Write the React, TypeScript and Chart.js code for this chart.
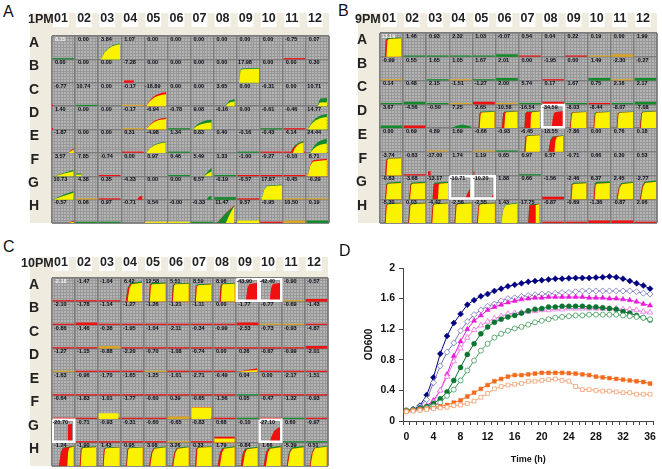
import React, { useEffect, useRef } from "react";
import { Chart, registerables } from "chart.js";

Chart.register(...registerables);

const columnLabels = ["01", "02", "03", "04", "05", "06", "07", "08", "09", "10", "11", "12"];
const rowLabels = ["A", "B", "C", "D", "E", "F", "G", "H"];
const odTicks = ["0", "0.4", "0.8", "1.2", "1.6", "2"];

/* ---------- well read-outs ---------- */
const valuesA = [
  ["8.15", "0.00", "3.84", "1.07", "0.00", "0.00", "0.00", "0.00", "0.00", "0.00", "-0.75", "0.07"],
  ["0.00", "0.00", "0.00", "-7.28", "0.00", "0.00", "0.00", "0.00", "17.98", "0.00", "0.00", "0.30"],
  ["-0.77", "10.74", "0.00", "-0.17", "-16.89", "0.00", "0.00", "3.65", "0.00", "-0.31", "0.00", "10.71"],
  ["1.40", "0.00", "0.00", "-0.17", "-6.94", "-0.78", "9.08", "-0.16", "0.00", "-0.61", "-0.46", "14.77"],
  ["-1.87", "0.00", "0.00", "0.31", "-4.98", "1.34", "0.83", "0.40", "-0.16", "-0.43", "4.14", "24.44"],
  ["3.57", "7.85", "-0.74", "0.00", "0.97", "0.46", "5.49", "1.33", "-1.00", "-0.27", "-0.10", "8.71"],
  ["10.73", "4.38", "0.35", "-4.33", "0.00", "0.00", "6.57", "-0.19", "-0.57", "17.87", "-0.45", "-0.29"],
  ["-0.57", "0.06", "0.97", "-0.71", "0.54", "-0.00", "-0.33", "11.47", "9.57", "-0.95", "10.50", "0.19"],
];
const valuesB = [
  ["13.19", "1.46", "0.93", "2.32", "1.03", "-0.07", "0.54", "0.04", "0.22", "0.19", "0.00", "1.99"],
  ["-0.99", "0.55", "1.65", "1.05", "1.67", "2.01", "0.00", "-1.95", "0.00", "1.49", "-2.30", "-0.27"],
  ["0.14", "0.48", "2.15", "-1.51", "-1.27", "2.00", "5.74", "0.17", "1.67", "0.75", "2.16", "2.17"],
  ["3.67", "-4.56", "-0.50", "7.25", "2.65", "-10.58", "-16.54", "-34.59", "-8.03", "-8.44", "-8.07", "-7.08"],
  ["0.00", "0.69", "4.89", "1.69", "-0.66", "-0.93", "-6.45", "-18.55", "-7.86", "0.00", "0.76", "0.18"],
  ["-3.74", "-0.63", "-17.00", "1.74", "1.19", "0.65", "0.97", "0.57", "-0.71", "0.66", "0.30", "0.53"],
  ["-0.83", "-3.68", "-13.17", "-10.71", "-10.20", "1.88", "0.66", "-1.56", "-2.46", "6.37", "2.45", "-2.77"],
  ["-5.30", "0.03", "-4.42", "-2.56", "-2.55", "1.43", "-17.75", "-0.87", "-0.69", "-1.36", "-0.87", "2.06"],
];
const valuesC = [
  ["-2.18", "-1.47", "-1.04", "6.42", "12.58", "5.51", "8.59", "8.96", "-43.90", "-42.40", "-0.90", "-0.57"],
  ["-2.10", "-1.78", "-1.14", "-1.27", "-1.26", "-1.21", "-1.11", "0.00", "-1.77", "-0.77", "-0.69", "-1.43"],
  ["-0.86", "-1.46", "-0.38", "-1.95", "-1.04", "-2.11", "-0.34", "-0.99", "-2.53", "-0.73", "-0.93", "-4.87"],
  ["-1.27", "-1.15", "-0.88", "-2.20", "-0.70", "-1.08", "-0.74", "0.00", "0.26", "-0.67", "-0.99", "-2.01"],
  ["-1.63", "-0.96", "-1.70", "-1.65", "-1.25", "-1.01", "-2.71", "-0.49", "0.04", "0.00", "-2.17", "-1.51"],
  ["-0.64", "-1.83", "-1.01", "-1.77", "-0.60", "0.39", "-0.65", "-1.56", "0.05", "-0.47", "-1.32", "-0.93"],
  ["-20.70", "-0.71", "-0.93", "-0.31", "-0.60", "-0.65", "-0.83", "0.68", "-0.10", "-27.10", "0.60", "-0.97"],
  ["-1.24", "-1.90", "1.43", "0.95", "3.08", "3.26", "0.33", "1.79", "-0.84", "1.66", "-5.39", "0.51"],
];

/* ---------- flat traces along the bottom of each well ---------- */
const tracesA = [
  "g.........r.",
  "............",
  ".g.o........",
  "...o.g...gr.",
  "...r.g..grr.",
  "..r..g.grrr.",
  ".or....Gr.oo",
  ".gg.yyg.YrOG",
];
const tracesB = [
  ".ggggGr.roO.",
  "o.gogG.r.GoG",
  "gGgoRogRgrgG",
  "GR..........",
  "..o.og......",
  ".r....g.....",
  ".......R....",
  ".......rrRRr",
];
const tracesC = [
  "rrr.......oR",
  "rRrrrrrrRoor",
  "rrOrrrrrrrrR",
  "orrrorrr.rrr",
  "rrrrrrrrgrrr",
  "rrrrrOrrgrgr",
  ".rrrrorr..gg",
  "............",
];

/* ---------- growth curve outlines, normalised to one well ---------- */
const curveShapes: Record<string, number[][]> = {
  box: [[0, 0], [0.08, 0.88], [0.16, 0.96], [1, 1]],
  steep: [[0, 0], [0.14, 0.7], [0.28, 0.92], [1, 1]],
  arc: [[0, 0], [0.2, 0.45], [0.4, 0.72], [0.6, 0.87], [0.8, 0.96], [1, 1]],
  ramp: [[0, 0], [0.5, 0.55], [1, 1]],
  hump: [[0, 0.1], [0.3, 0.7], [0.55, 1], [0.8, 0.7], [1, 0.4]],
  flat: [[0, 1], [1, 1]],
};

/* row, col, start, end, height, outline, body, cap colour, cap depth, edge colour, edge width */
type Well = [number, number, number, number, number, string, string, string, number, string, number];
const curvesA: Well[] = [
  [0, 2, 0.11, 0.96, 0.68, "arc", "y", "g", 0.03, "", 0],
  [1, 8, 0.1, 0.97, 0.63, "box", "y", "g", 0.03, "", 0],
  [1, 3, 0.12, 0.55, 0.1, "flat", "r", "", 0, "", 0],
  [2, 0, 0.0, 0.06, 0.06, "flat", "r", "", 0, "", 0],
  [2, 4, 0.08, 0.95, 0.6, "arc", "y", "r", 0.09, "", 0],
  [2, 7, 0.52, 0.92, 0.3, "arc", "y", "g", 0.1, "", 0],
  [2, 11, 0.52, 0.91, 0.35, "steep", "y", "g", 0.18, "", 0],
  [3, 0, 0.0, 0.06, 0.06, "flat", "r", "", 0, "", 0],
  [3, 4, 0.08, 0.95, 0.5, "arc", "y", "r", 0.05, "", 0],
  [3, 6, 0.1, 0.92, 0.42, "arc", "y", "g", 0.12, "", 0],
  [3, 11, 0.08, 0.91, 0.66, "arc", "y", "g", 0.12, "", 0],
  [4, 0, 0.7, 0.95, 0.2, "ramp", "y", "r", 0.06, "", 0],
  [4, 4, 0.08, 0.93, 0.47, "arc", "y", "g", 0.03, "", 0],
  [4, 10, 0.33, 0.91, 0.5, "arc", "y", "g", 0.06, "r", 0.1],
  [4, 11, 0.19, 0.91, 0.6, "arc", "y", "g", 0.2, "", 0],
  [5, 0, 0.12, 0.94, 0.27, "ramp", "y", "g", 0.06, "", 0],
  [5, 1, 0.03, 0.28, 0.12, "flat", "y", "g", 0.05, "", 0],
  [5, 6, 0.58, 0.92, 0.37, "ramp", "y", "g", 0.16, "", 0],
  [5, 11, 0.08, 0.91, 0.75, "steep", "y", "r", 0.06, "", 0],
  [6, 0, 0.05, 0.94, 0.37, "ramp", "y", "g", 0.08, "", 0],
  [6, 3, 0.68, 0.92, 0.16, "arc", "r", "", 0, "", 0],
  [6, 6, 0.7, 0.92, 0.16, "arc", "g", "", 0, "", 0],
  [6, 9, 0.07, 0.97, 0.65, "steep", "y", "g", 0.03, "", 0],
  [7, 0, 0.7, 0.95, 0.1, "ramp", "y", "r", 0.05, "", 0],
  [7, 7, 0.15, 0.9, 0.76, "ramp", "y", "r", 0.03, "g", 0.38],
];
const curvesB: Well[] = [
  [0, 0, 0.2, 0.93, 0.82, "box", "y", "g", 0.04, "r", 0.07],
  [3, 3, 0.1, 0.95, 0.15, "hump", "g", "", 0, "", 0],
  [3, 4, 0.26, 0.97, 0.72, "box", "y", "g", 0.04, "r", 0.05],
  [3, 5, 0.28, 0.97, 0.72, "box", "y", "g", 0.03, "r", 0.1],
  [3, 6, 0.25, 0.93, 0.72, "box", "y", "g", 0.03, "r", 0.26],
  [3, 7, 0.43, 0.93, 0.72, "steep", "r", "", 0, "", 0],
  [3, 8, 0.23, 0.95, 0.7, "box", "y", "g", 0.03, "r", 0.03],
  [3, 9, 0.25, 0.96, 0.7, "box", "y", "g", 0.03, "r", 0.03],
  [3, 10, 0.25, 0.96, 0.7, "box", "y", "g", 0.03, "r", 0.03],
  [3, 11, 0.26, 0.97, 0.72, "box", "y", "g", 0.03, "r", 0.04],
  [4, 6, 0.25, 0.93, 0.72, "box", "y", "g", 0.03, "r", 0.05],
  [4, 7, 0.29, 0.95, 0.7, "steep", "y", "g", 0.03, "r", 0.26],
  [5, 0, 0.22, 0.93, 0.76, "box", "y", "g", 0.03, "r", 0.05],
  [5, 2, 0.08, 0.2, 0.18, "flat", "r", "", 0, "", 0],
  [5, 4, 0.04, 0.1, 0.18, "flat", "r", "", 0, "", 0],
  [6, 0, 0.22, 0.93, 0.74, "box", "y", "g", 0.06, "r", 0.04],
  [6, 1, 0.26, 0.97, 0.74, "box", "y", "g", 0.06, "r", 0.04],
  [6, 2, 0.27, 0.95, 0.74, "box", "y", "g", 0.06, "r", 0.24],
  [6, 3, 0.68, 0.9, 0.45, "ramp", "r", "", 0, "", 0],
  [6, 4, 0.8, 0.93, 0.25, "ramp", "r", "", 0, "", 0],
  [6, 8, 0.25, 0.95, 0.72, "box", "y", "g", 0.05, "r", 0.04],
  [6, 9, 0.25, 0.96, 0.76, "box", "y", "g", 0.08, "r", 0.04],
  [6, 10, 0.25, 0.96, 0.74, "steep", "y", "g", 0.05, "r", 0.04],
  [6, 11, 0.26, 0.97, 0.8, "steep", "y", "g", 0.06, "r", 0.04],
  [7, 0, 0.2, 0.96, 0.85, "box", "y", "g", 0.03, "r", 0.04],
  [7, 1, 0.22, 0.98, 0.85, "box", "y", "g", 0.03, "r", 0.04],
  [7, 2, 0.22, 0.96, 0.85, "box", "y", "g", 0.03, "r", 0.04],
  [7, 3, 0.22, 0.98, 0.85, "box", "y", "g", 0.03, "r", 0.04],
  [7, 4, 0.2, 0.98, 0.85, "box", "y", "g", 0.03, "r", 0.04],
  [7, 5, 0.25, 0.95, 0.85, "steep", "y", "g", 0.03, "", 0],
  [7, 6, 0.42, 0.92, 0.82, "box", "y", "g", 0.03, "r", 0.3],
];
const curvesC: Well[] = [
  [0, 3, 0.2, 0.92, 0.86, "steep", "y", "g", 0.06, "r", 0.08],
  [0, 4, 0.2, 0.95, 0.82, "box", "y", "g", 0.05, "r", 0.05],
  [0, 5, 0.2, 0.95, 0.8, "box", "y", "g", 0.04, "r", 0.05],
  [0, 6, 0.2, 0.92, 0.76, "box", "y", "g", 0.04, "r", 0.05],
  [0, 7, 0.28, 0.95, 0.8, "box", "y", "g", 0.04, "r", 0.06],
  [0, 8, 0.42, 0.95, 0.8, "steep", "r", "", 0, "", 0],
  [0, 9, 0.46, 0.93, 0.8, "steep", "r", "", 0, "", 0],
  [3, 8, 0.05, 0.93, 0.16, "ramp", "y", "r", 0.07, "", 0],
  [5, 2, 0.02, 0.9, 0.25, "flat", "y", "", 0, "", 0],
  [5, 6, 0.05, 0.93, 0.5, "flat", "y", "r", 0.01, "", 0],
  [6, 0, 0.67, 0.88, 0.8, "box", "r", "", 0, "", 0],
  [6, 7, 0.05, 0.95, 0.25, "flat", "y", "r", 0.08, "", 0],
  [6, 9, 0.46, 0.93, 0.65, "arc", "r", "", 0, "", 0],
  [7, 0, 0.3, 0.95, 0.86, "steep", "y", "g", 0.03, "r", 0.36],
  [7, 1, 0.2, 0.93, 0.84, "box", "y", "g", 0.04, "r", 0.04],
  [7, 2, 0.2, 0.95, 0.82, "box", "y", "g", 0.03, "r", 0.04],
  [7, 3, 0.22, 0.95, 0.82, "box", "y", "g", 0.03, "r", 0.04],
  [7, 4, 0.22, 0.95, 0.84, "steep", "y", "g", 0.04, "r", 0.05],
  [7, 5, 0.22, 0.95, 0.84, "steep", "y", "g", 0.04, "r", 0.05],
  [7, 6, 0.22, 0.95, 0.84, "box", "y", "g", 0.03, "r", 0.05],
  [7, 7, 0.2, 0.95, 0.84, "steep", "y", "g", 0.04, "r", 0.1],
  [7, 8, 0.2, 0.95, 0.82, "steep", "y", "g", 0.04, "r", 0.1],
  [7, 9, 0.2, 0.95, 0.86, "steep", "y", "g", 0.06, "r", 0.1],
  [7, 10, 0.2, 0.95, 0.86, "steep", "y", "g", 0.06, "r", 0.05],
  [7, 11, 0.2, 0.95, 0.86, "steep", "y", "g", 0.04, "r", 0.04],
];

/* wells framed in white */
const framedA: number[][] = [];
const framedB = [[3, 7], [6, 3], [6, 4]];
const framedC = [[0, 8], [0, 9], [6, 0], [6, 9]];

/* ---------- panel D: OD600 against time ---------- */
const hours = ["0", "1", "2", "3", "4", "5", "6", "7", "8", "9", "10", "11", "12", "13", "14", "15", "16", "17", "18", "19", "20", "21", "22", "23", "24", "25", "26", "27", "28", "29", "30", "31", "32", "33", "34", "35", "36"];
const navyFilled = [0.13, 0.15, 0.2, 0.34, 0.57, 0.88, 1.11, 1.28, 1.4, 1.52, 1.58, 1.63, 1.66, 1.7, 1.73, 1.76, 1.78, 1.8, 1.82, 1.83, 1.84, 1.85, 1.86, 1.86, 1.865, 1.87, 1.87, 1.87, 1.875, 1.88, 1.89, 1.88, 1.86, 1.83, 1.8, 1.77, 1.73];
const navyOpen = [0.13, 0.15, 0.19, 0.28, 0.5, 0.72, 0.9, 1.02, 1.18, 1.3, 1.39, 1.45, 1.5, 1.53, 1.57, 1.6, 1.61, 1.63, 1.64, 1.65, 1.66, 1.66, 1.67, 1.68, 1.68, 1.69, 1.7, 1.7, 1.7, 1.7, 1.7, 1.7, 1.7, 1.7, 1.69, 1.67, 1.66];
const magentaFilled = [0.13, 0.15, 0.17, 0.2, 0.27, 0.4, 0.61, 0.85, 1.04, 1.2, 1.31, 1.38, 1.45, 1.49, 1.52, 1.55, 1.57, 1.59, 1.6, 1.61, 1.61, 1.62, 1.62, 1.62, 1.62, 1.62, 1.62, 1.61, 1.61, 1.61, 1.6, 1.6, 1.59, 1.58, 1.56, 1.53, 1.51];
const magentaOpen = [0.13, 0.14, 0.16, 0.19, 0.25, 0.4, 0.58, 0.78, 0.95, 1.09, 1.19, 1.25, 1.3, 1.34, 1.37, 1.4, 1.41, 1.42, 1.43, 1.44, 1.45, 1.45, 1.46, 1.46, 1.47, 1.47, 1.47, 1.47, 1.47, 1.47, 1.47, 1.47, 1.46, 1.46, 1.45, 1.43, 1.42];
const greenFilled = [0.14, 0.15, 0.17, 0.19, 0.23, 0.29, 0.38, 0.53, 0.7, 0.87, 1.01, 1.14, 1.23, 1.29, 1.33, 1.36, 1.38, 1.41, 1.44, 1.46, 1.47, 1.49, 1.49, 1.5, 1.5, 1.5, 1.5, 1.49, 1.49, 1.48, 1.47, 1.46, 1.43, 1.41, 1.38, 1.35, 1.32];
const greenOpen = [0.13, 0.14, 0.15, 0.17, 0.19, 0.24, 0.33, 0.41, 0.53, 0.66, 0.79, 0.92, 1.01, 1.09, 1.14, 1.18, 1.21, 1.23, 1.26, 1.29, 1.31, 1.33, 1.35, 1.36, 1.37, 1.38, 1.38, 1.39, 1.39, 1.39, 1.39, 1.39, 1.38, 1.37, 1.36, 1.35, 1.33];
const orangeFilled = [0.13, 0.14, 0.15, 0.16, 0.17, 0.19, 0.21, 0.24, 0.27, 0.32, 0.37, 0.42, 0.47, 0.52, 0.55, 0.58, 0.6, 0.6, 0.61, 0.62, 0.63, 0.63, 0.63, 0.63, 0.625, 0.62, 0.61, 0.6, 0.58, 0.57, 0.56, 0.55, 0.54, 0.53, 0.52, 0.51, 0.49];
const orangeOpen = [0.12, 0.13, 0.14, 0.15, 0.16, 0.17, 0.18, 0.2, 0.21, 0.23, 0.26, 0.31, 0.36, 0.42, 0.45, 0.47, 0.48, 0.49, 0.52, 0.52, 0.53, 0.54, 0.55, 0.53, 0.52, 0.45, 0.41, 0.41, 0.4, 0.39, 0.39, 0.38, 0.37, 0.37, 0.35, 0.35, 0.35];

const FONT = '"Liberation Sans", Arial, sans-serif';
const CREAM = "#efebde";
const paint: Record<string, string> = {
  r: "#f01010",
  g: "#158a2c",
  y: "#fbf200",
  o: "#d9a524",
};

function layer(r: number, c: number, t0: number, t1: number, h: number, shape: string, color: string) {
  return {
    xAxisID: "x",
    yAxisID: "y",
    data: curveShapes[shape].map(([u, v]) => ({ x: c + t0 + (t1 - t0) * u, y: r + 1 - h * v })),
    backgroundColor: color,
    borderWidth: 0,
    pointRadius: 0,
    tension: 0,
    fill: { value: r + 1 },
  };
}

function plateDatasets(traces: string[], curves: Well[], framed: number[][]) {
  const out: any[] = [];
  traces.forEach((line, r) => {
    line.split("").forEach((ch, c) => {
      if (ch === ".") return;
      const low = ch.toLowerCase();
      const thick = ch !== low;
      const y = r + 1 - (thick ? 0.05 : 0.03);
      out.push({
        xAxisID: "x",
        yAxisID: "y",
        data: [{ x: c + 0.03, y }, { x: c + 0.97, y }],
        borderColor: paint[low],
        borderWidth: thick ? 2.6 : 1.2,
        pointRadius: 0,
        fill: false,
      });
    });
  });
  curves.forEach(([r, c, t0, t1, h, shape, body, cap, capDepth, edge, edgeW]) => {
    if (cap) out.push(layer(r, c, t0, t1, h, shape, paint[cap]));
    const inner = h - capDepth;
    if (edge) out.push(layer(r, c, t0, t1, inner, shape, paint[edge]));
    out.push(layer(r, c, t0 + edgeW, t1, inner, shape, paint[body]));
  });
  framed.forEach(([r, c]) => {
    out.push({
      xAxisID: "x",
      yAxisID: "y",
      data: [
        { x: c + 0.03, y: r + 0.03 },
        { x: c + 0.97, y: r + 0.03 },
        { x: c + 0.97, y: r + 0.97 },
        { x: c + 0.03, y: r + 0.97 },
        { x: c + 0.03, y: r + 0.03 },
      ],
      borderColor: "#ffffff",
      borderWidth: 2.5,
      pointRadius: 0,
      fill: false,
    });
  });
  return out.reverse();
}

const noPadding = (s: any) => {
  s.paddingLeft = 0;
  s.paddingRight = 0;
  s.paddingTop = 0;
  s.paddingBottom = 0;
};

function plateChart(
  canvas: HTMLCanvasElement,
  clock: string,
  values: string[][],
  traces: string[],
  curves: Well[],
  framed: number[][],
  bandW: number,
  headH: number,
  headPad: number,
) {
  const platePlugin = {
    id: "plate",
    beforeDraw(chart: any) {
      const { ctx, chartArea: a } = chart;
      ctx.save();
      ctx.fillStyle = CREAM;
      ctx.fillRect(a.left - 22, 0, a.right - a.left + 22, a.bottom);
      ctx.fillStyle = "#b4b4b4";
      ctx.fillRect(a.left, a.top, a.right - a.left, a.bottom - a.top);
      ctx.restore();
    },
    afterDatasetsDraw(chart: any) {
      const { ctx } = chart;
      const x = chart.scales.x;
      const y = chart.scales.y;
      ctx.save();
      ctx.font = `bold 5.5px ${FONT}`;
      ctx.textAlign = "center";
      ctx.textBaseline = "middle";
      values.forEach((row, r) =>
        row.forEach((v, c) => {
          ctx.fillStyle = r === 0 && c === 0 ? "#f4f4f4" : "#0a0a18";
          ctx.fillText(v, x.getPixelForValue(c + 0.36), y.getPixelForValue(r + 0.14));
        }),
      );
      ctx.font = `bold 12.5px ${FONT}`;
      ctx.textAlign = "left";
      ctx.fillStyle = "#222";
      ctx.fillText(clock, 1, 7);
      ctx.restore();
    },
  };
  return new Chart(canvas, {
    type: "line",
    data: { datasets: plateDatasets(traces, curves, framed) },
    plugins: [platePlugin],
    options: {
      animation: false,
      responsive: false,
      layout: { padding: { right: 1, bottom: 1 } },
      plugins: { legend: { display: false }, tooltip: { enabled: false }, title: { display: false } },
      scales: {
        xf: {
          type: "linear", position: "top", min: 0, max: 12,
          afterFit: noPadding,
          ticks: { display: false, stepSize: 0.125, autoSkip: false },
          grid: { color: "#989898", lineWidth: 1, drawTicks: false, z: -2 },
          border: { display: false },
        },
        yf: {
          type: "linear", position: "left", min: 0, max: 8,
          afterFit: noPadding,
          ticks: { display: false, stepSize: 0.125, autoSkip: false },
          grid: { color: "#989898", lineWidth: 1, drawTicks: false, z: -2 },
          border: { display: false },
        },
        x: {
          type: "linear", position: "top", min: 0, max: 12,
          afterFit: (s: any) => { s.height = headH; noPadding(s); },
          ticks: {
            stepSize: 1, autoSkip: false, maxRotation: 0, minRotation: 0, padding: headPad, labelOffset: 9,
            font: { family: FONT, size: 12.5, weight: "bold" }, color: "#222",
            showLabelBackdrop: true, backdropColor: "#ffffff", backdropPadding: 1,
            callback: (v: any) => columnLabels[v] ?? "",
          },
          grid: { color: "#7c7c7c", lineWidth: 1.4, drawTicks: false, z: -1 },
          border: { display: false },
        },
        y: {
          type: "linear", position: "left", min: 0, max: 8, reverse: true,
          afterFit: (s: any) => { s.width = bandW; noPadding(s); },
          ticks: {
            stepSize: 1, autoSkip: false, padding: 13, labelOffset: 7,
            font: { family: FONT, size: 14, weight: "bold" }, color: "#222",
            callback: (v: any) => rowLabels[v] ?? "",
          },
          grid: { color: "#7c7c7c", lineWidth: 1.4, drawTicks: false, z: -1 },
          border: { display: false },
        },
      },
    } as any,
  });
}

function series(label: string, data: number[], color: string, style: string, radius: number, open: boolean) {
  return {
    label, data,
    borderColor: color,
    borderWidth: 1,
    pointStyle: style,
    pointRadius: radius,
    pointBorderWidth: open ? 0.8 : 0.5,
    pointBorderColor: color,
    pointBackgroundColor: open ? "#ffffff" : color,
    tension: 0,
    fill: false,
  };
}

function growthChart(canvas: HTMLCanvasElement) {
  return new Chart(canvas, {
    type: "line",
    data: {
      labels: hours,
      datasets: [
        series("navy", navyFilled, "#000080", "rectRot", 3, false),
        series("navy open", navyOpen, "#7474b8", "rectRot", 3, true),
        series("magenta", magentaFilled, "#e81ad8", "triangle", 3, false),
        series("magenta open", magentaOpen, "#ee70e2", "triangle", 3.2, true),
        series("green", greenFilled, "#0a7430", "circle", 2.5, false),
        series("green open", greenOpen, "#3f9a58", "circle", 2.5, true),
        series("orange", orangeFilled, "#f26a1c", "rect", 2.7, false),
        series("orange open", orangeOpen, "#f0a070", "rect", 2.7, true),
      ].reverse(),
    },
    options: {
      animation: false,
      responsive: false,
      layout: { padding: { left: 23, top: 28, right: 6, bottom: 4 } },
      plugins: { legend: { display: false }, tooltip: { enabled: false }, title: { display: false } },
      scales: {
        x: {
          type: "category", offset: true,
          afterFit: (s: any) => { s.height = 44; },
          ticks: {
            autoSkip: false, maxRotation: 0, minRotation: 0, padding: 6, color: "#111",
            font: { family: FONT, size: 10.5, weight: "bold" },
            callback: (_v: any, i: number) => (i % 4 === 0 ? hours[i] : ""),
          },
          grid: { offset: true, drawOnChartArea: false, tickLength: 4, tickColor: "#444", tickWidth: 1 },
          border: { color: "#444", width: 1 },
          title: { display: true, text: "Time (h)", color: "#111", font: { family: FONT, size: 9, weight: "bold" }, padding: { top: 0, bottom: 0 } },
        },
        y: {
          type: "linear", min: 0, max: 2,
          afterFit: (s: any) => { s.width = 40; },
          ticks: {
            stepSize: 0.4, padding: 4, color: "#111", font: { family: FONT, size: 10.5, weight: "bold" },
            callback: (_v: any, i: number) => odTicks[i],
          },
          grid: { drawOnChartArea: false, tickLength: 4, tickColor: "#444", tickWidth: 1 },
          border: { color: "#444", width: 1 },
          title: { display: true, text: "OD600", color: "#111", font: { family: FONT, size: 10, weight: "bold" }, padding: { top: 0, bottom: 0 } },
        },
      },
    } as any,
  });
}

const letterStyle = (left: number, top: number): React.CSSProperties => ({
  position: "absolute", left, top, font: `16px/1 ${FONT}`, color: "#111",
});
const place = (left: number, top: number): React.CSSProperties => ({
  position: "absolute", left, top, display: "block", filter: "blur(0.35px)",
});

export default function App() {
  const a = useRef<HTMLCanvasElement>(null);
  const b = useRef<HTMLCanvasElement>(null);
  const c = useRef<HTMLCanvasElement>(null);
  const d = useRef<HTMLCanvasElement>(null);
  useEffect(() => {
    const charts = [
      plateChart(a.current!, "1PM", valuesA, tracesA, curvesA, framedA, 25, 23, 10),
      plateChart(b.current!, "9PM", valuesB, tracesB, curvesB, framedB, 26, 20, 7),
      plateChart(c.current!, "10PM", valuesC, tracesC, curvesC, framedC, 32, 21, 8),
      growthChart(d.current!),
    ];
    return () => charts.forEach((ch) => ch.destroy());
  }, []);
  return (
    <div style={{ position: "absolute", left: 0, top: 0, width: 662, height: 469, background: "#fff", overflow: "hidden" }}>
      <canvas ref={a} width={303} height={211} style={place(27, 13)} />
      <canvas ref={b} width={304} height={211} style={place(354, 13)} />
      <canvas ref={c} width={309} height={210} style={place(20, 257)} />
      <canvas ref={d} width={322} height={229} style={place(340, 240)} />
      <div style={letterStyle(3, 4)}>A</div>
      <div style={letterStyle(338, 3)}>B</div>
      <div style={letterStyle(3, 239)}>C</div>
      <div style={letterStyle(339, 243)}>D</div>
    </div>
  );
}
